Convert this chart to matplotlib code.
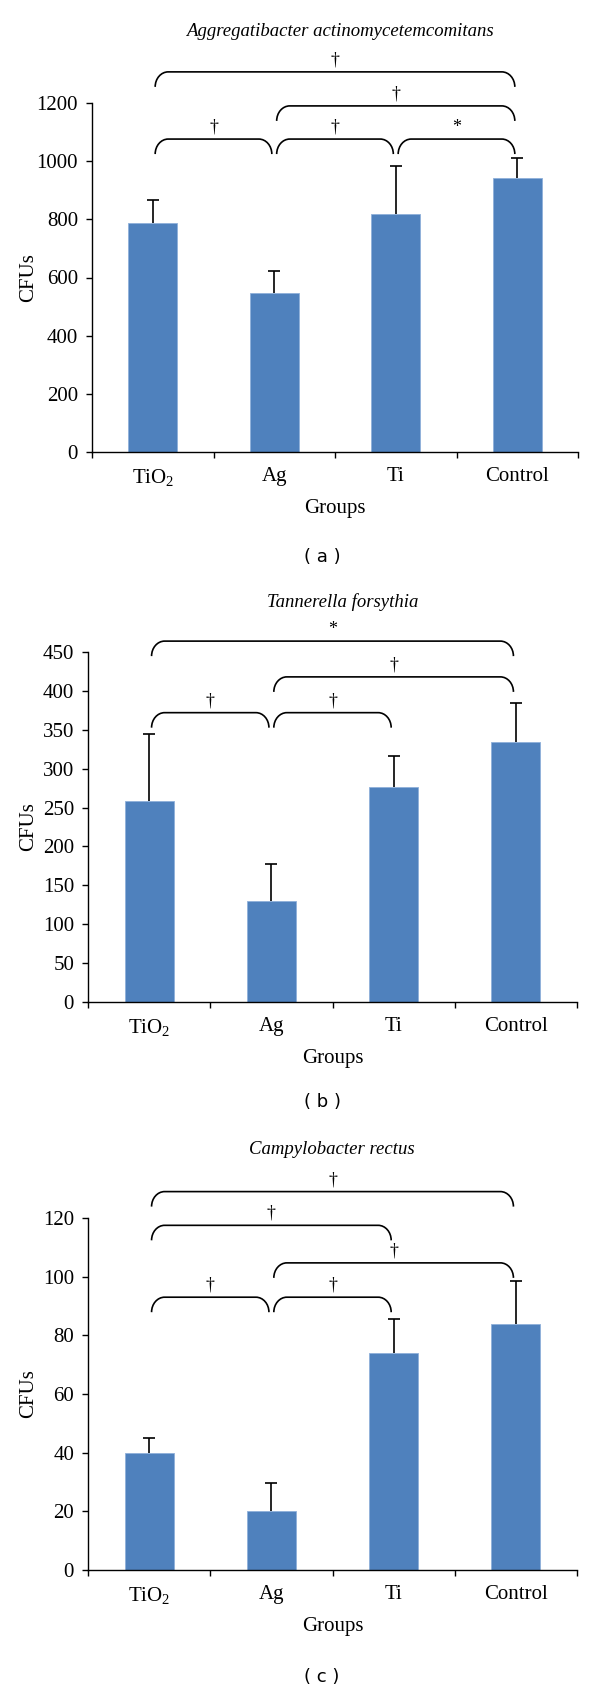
import matplotlib

matplotlib.use("Agg")
import matplotlib.pyplot as plt
from matplotlib.path import Path
from matplotlib.patches import PathPatch

plt.rcParams["font.family"] = ["Liberation Serif", "DejaVu Serif"]
plt.rcParams["mathtext.fontset"] = "custom"
plt.rcParams["mathtext.rm"] = "Liberation Serif"
plt.rcParams["mathtext.it"] = "Liberation Serif:italic"

# --- data -----------------------------------------------------------------
groups = ["TiO$_2$", "Ag", "Ti", "Control"]

a_title = "Aggregatibacter actinomycetemcomitans"
a_means = [788, 547, 820, 942]
a_err = [78, 76, 165, 68]
a_yticks = [0, 200, 400, 600, 800, 1000, 1200]
# (left group, right group, bracket level, symbol)
a_pairs = [(0, 3, 1307, "†"), (1, 3, 1190, "†"),
           (0, 1, 1076, "†"), (1, 2, 1076, "†"), (2, 3, 1076, "*")]

b_title = "Tannerella forsythia"
b_means = [259, 130, 277, 334]
b_err = [85, 47, 39, 51]
b_yticks = [0, 50, 100, 150, 200, 250, 300, 350, 400, 450]
b_pairs = [(0, 3, 464, "*"), (1, 3, 418, "†"),
           (0, 1, 372, "†"), (1, 2, 372, "†")]

c_title = "Campylobacter rectus"
c_means = [40, 20, 74, 84]
c_err = [5, 9.5, 11.5, 14.5]
c_yticks = [0, 20, 40, 60, 80, 100, 120]
c_pairs = [(0, 3, 129, "†"), (0, 2, 117.5, "†"), (1, 3, 104.7, "†"),
           (0, 1, 93, "†"), (1, 2, 93, "†")]

BAR_COLOR = "#4F81BD"
W, H = 600, 1691

panels = [
    # title, means, err, yticks, pairs, (left, right, top, bottom) px, title xy, tag, tag y
    (a_title, a_means, a_err, a_yticks, a_pairs, (92, 578, 103, 452), (340, 31), "( a )", 557),
    (b_title, b_means, b_err, b_yticks, b_pairs, (88, 577, 652, 1002), (343, 602), "( b )", 1102),
    (c_title, c_means, c_err, c_yticks, c_pairs, (88, 577, 1218, 1570), (332, 1149), "( c )", 1677),
]


def draw_bracket(ax, x1, x2, y, h, w, sym):
    k = 0.552
    verts = [
        (x1, y - h), (x1, y - h + k * h), (x1 + w - k * w, y), (x1 + w, y),
        (x2 - w, y),
        (x2 - w + k * w, y), (x2, y - h + k * h), (x2, y - h),
    ]
    codes = [Path.MOVETO, Path.CURVE4, Path.CURVE4, Path.CURVE4,
             Path.LINETO, Path.CURVE4, Path.CURVE4, Path.CURVE4]
    ax.add_patch(PathPatch(Path(verts, codes), fill=False, lw=1.2,
                           edgecolor="black", clip_on=False))
    ax.annotate(sym, ((x1 + x2) / 2, y), xytext=(0, 2.5), textcoords="offset points",
                ha="center", va="bottom", fontsize=13, annotation_clip=False)


fig = plt.figure(figsize=(W / 100, H / 100), dpi=100)

for title, means, err, yticks, pairs, box, txy, tag, tag_y in panels:
    left, right, top, bottom = box
    ax_w, ax_h = right - left, bottom - top
    ax = fig.add_axes([left / W, 1 - bottom / H, ax_w / W, ax_h / H])

    x = list(range(len(groups)))
    ax.bar(x, means, width=0.4, color=BAR_COLOR, edgecolor="#8FB0DA", linewidth=0.6,
           zorder=2)
    eb = ax.errorbar(x, means, yerr=[[0] * len(err), err], fmt="none", ecolor="black",
                     elinewidth=1.2, capsize=4, capthick=1.2, zorder=3)
    eb[1][0].set_visible(False)  # only the upper cap

    ymax = yticks[-1]
    ax.set_xlim(-0.5, 3.5)
    ax.set_ylim(0, ymax)
    ax.set_yticks(yticks)
    ax.set_xticks(x)
    ax.set_xticklabels(groups)
    ax.set_xticks([-0.5, 0.5, 1.5, 2.5, 3.5], minor=True)
    ax.tick_params(axis="x", which="major", length=0, pad=11, labelsize=15)
    ax.tick_params(axis="x", which="minor", length=4, width=1.0, direction="out")
    ax.tick_params(axis="y", length=4, width=1.0, direction="out", pad=6, labelsize=15)

    for side in ("top", "right"):
        ax.spines[side].set_visible(False)
    for side in ("left", "bottom"):
        ax.spines[side].set_linewidth(1.0)

    ax.set_ylabel("CFUs", fontsize=15)
    ax.yaxis.set_label_coords((38 - left) / ax_w, 0.5)
    ax.set_xlabel("Groups", fontsize=15)
    ax.xaxis.set_label_coords(0.5, -47 / ax_h)

    # bracket legs ~15 px tall, corners ~13 px wide
    h = 15 * ymax / ax_h
    w = 13 * 4 / ax_w
    for i, j, lvl, sym in pairs:
        draw_bracket(ax, i + 0.02, j - 0.02, lvl, h, w, sym)

    fig.text(txy[0] / W, 1 - txy[1] / H, title, style="italic", fontsize=13.5,
             ha="center", va="center")
    fig.text(322 / W, 1 - tag_y / H, tag, family="DejaVu Sans", fontsize=13,
             ha="center", va="center")

fig.savefig("out.png", dpi=100)
